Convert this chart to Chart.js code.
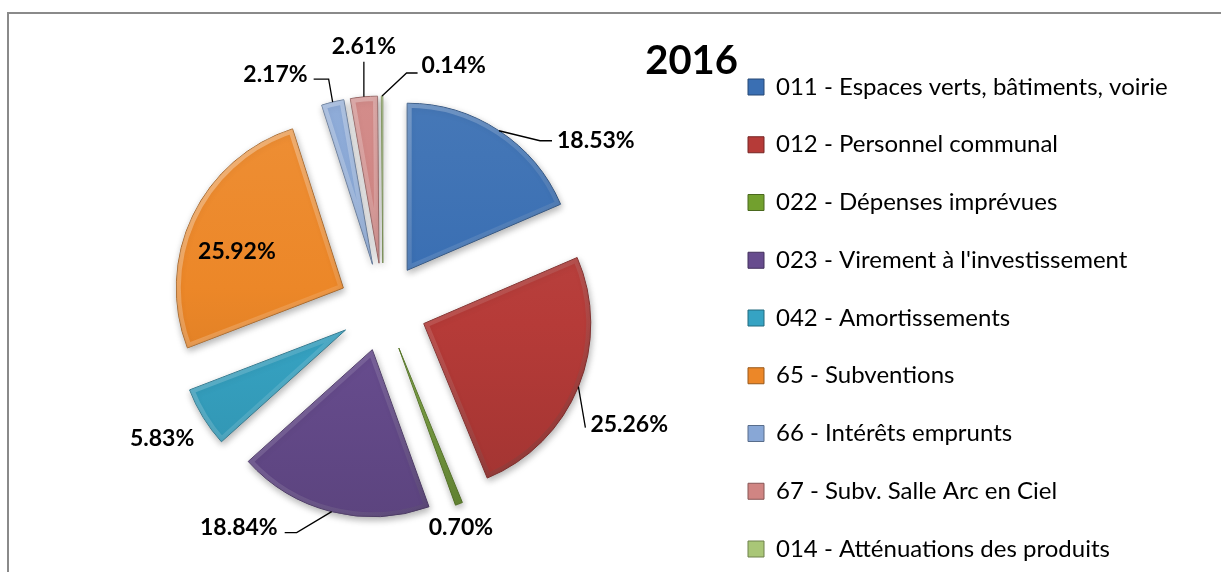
<!DOCTYPE html>
<html><head><meta charset="utf-8">
<script src="https://cdn.jsdelivr.net/npm/chart.js@4.4.1/dist/chart.umd.min.js"></script>
<style>
html,body{margin:0;padding:0;background:#fff;overflow:hidden;width:1221px;height:572px;}
#frame{position:absolute;left:7px;top:12px;width:1300px;height:700px;border:2px solid #8a8a8a;}
#wrap{position:absolute;left:0;top:0;width:1221px;height:572px;}
</style></head><body>
<div id="frame"></div>
<div id="wrap"><canvas id="c" width="1221" height="572"></canvas></div>
<script>
const chartTitle = '2016';
const categories = [
  '011 - Espaces verts, bâtiments, voirie',
  '012 - Personnel communal',
  '022 - Dépenses imprévues',
  "023 - Virement à l'investissement",
  '042 - Amortissements',
  '65 - Subventions',
  '66 - Intérêts emprunts',
  '67 - Subv. Salle Arc en Ciel',
  '014 - Atténuations des produits'
];
const values = [18.53, 25.26, 0.70, 18.84, 5.83, 25.92, 2.17, 2.61, 0.14];
const palette = ['#3a6fb3', '#b63b38', '#72a02e', '#674c8e', '#36a3c3', '#ec8728', '#88a7d6', '#d08583', '#a9c677'];

function shade(hex, f) {
  const n = parseInt(hex.slice(1), 16);
  let r = (n >> 16) & 255, g = (n >> 8) & 255, b = n & 255;
  const t = f < 0 ? 0 : 255, p = Math.abs(f);
  r = Math.round((t - r) * p + r); g = Math.round((t - g) * p + g); b = Math.round((t - b) * p + b);
  return 'rgb(' + r + ',' + g + ',' + b + ')';
}

const EXPLODE = 44;
const LEGEND_FONT = 24;
const LEGEND_PAD = 33.75;
const LEGEND_BOX = 16;

// legend width = its natural width (measured), so the legend box never clips its text
const mctx = document.createElement('canvas').getContext('2d');
mctx.font = LEGEND_FONT + 'px Lato';
const maxTextW = Math.max(...categories.map(t => mctx.measureText(t).width));
const legendWidth = LEGEND_PAD + LEGEND_BOX + LEGEND_FONT / 2 + maxTextW + 10;
const legendLeft = 714.25;

// label placement relative to the anchor point on each slice (style options)
const labelLayout = [
  {r: 1, leader: [[41, 10], [53, 10]], text: [58, 10], align: 'left'},
  {r: 1, leader: [[7, 41]], text: [12, 38], align: 'left'},
  {r: 1, leader: [], text: [2, 24], align: 'center'},
  {r: 1, leader: [[-35, 21], [-47, 21]], text: [-54, 16], align: 'right'},
  {r: 1, leader: [], text: [-41, 21], align: 'center'},
  {r: 0.68, leader: [], text: [-4, 13], align: 'center'},
  {r: 1, leader: [[-4, -23], [-19, -23]], text: [-25, -28], align: 'right'},
  {r: 1, leader: [[0, -35]], text: [0, -50], align: 'center'},
  {r: 1, leader: [[24.5, -23], [35.5, -23]], text: [39.5, -30], align: 'left'}
];

const explodePlugin = {
  id: 'explode',
  beforeDatasetDraw(chart, args, opts) {
    const ctx = chart.ctx;
    const d = opts.distance || 0;
    args.meta.data.forEach(arc => {
      const mid = (arc.startAngle + arc.endAngle) / 2;
      ctx.save();
      ctx.translate(Math.cos(mid) * d, Math.sin(mid) * d);
      ctx.save();
      ctx.shadowColor = 'rgba(0,0,0,0.30)';
      ctx.shadowBlur = 7;
      ctx.shadowOffsetX = 1;
      ctx.shadowOffsetY = 3;
      arc.draw(ctx);
      ctx.restore();
      // soft bevel along the slice edges
      const R = arc.outerRadius;
      ctx.beginPath();
      ctx.moveTo(arc.x, arc.y);
      ctx.arc(arc.x, arc.y, R, arc.startAngle, arc.endAngle);
      ctx.closePath();
      ctx.clip();
      const g = ctx.createLinearGradient(arc.x - R, arc.y - R, arc.x + R, arc.y + R);
      g.addColorStop(0, 'rgba(255,255,255,0.40)');
      g.addColorStop(0.5, 'rgba(255,255,255,0.12)');
      g.addColorStop(1, 'rgba(0,0,0,0.22)');
      ctx.strokeStyle = g;
      ctx.lineWidth = 9;
      ctx.lineJoin = 'round';
      ctx.stroke();
      ctx.restore();
    });
    return false;
  }
};

const labelPlugin = {
  id: 'sliceLabels',
  afterDatasetsDraw(chart, args, opts) {
    const ctx = chart.ctx;
    const meta = chart.getDatasetMeta(0);
    const d = opts.explode || 0;
    const data = chart.data.datasets[0].data;
    ctx.save();
    ctx.font = 'bold 23px Lato';
    ctx.fillStyle = '#000';
    ctx.strokeStyle = '#000';
    ctx.lineWidth = 1.3;
    ctx.textBaseline = 'middle';
    meta.data.forEach((arc, i) => {
      const L = opts.layout[i];
      const mid = (arc.startAngle + arc.endAngle) / 2;
      const ex = arc.x + Math.cos(mid) * d, ey = arc.y + Math.sin(mid) * d;
      const ax = ex + Math.cos(mid) * arc.outerRadius * L.r;
      const ay = ey + Math.sin(mid) * arc.outerRadius * L.r;
      if (L.leader.length) {
        ctx.beginPath();
        ctx.moveTo(ax, ay);
        L.leader.forEach(p => ctx.lineTo(ax + p[0], ay + p[1]));
        ctx.stroke();
      }
      ctx.textAlign = L.align;
      ctx.fillText(data[i].toFixed(2) + '%', ax + L.text[0], ay + L.text[1]);
    });
    // chart title, placed just left of the legend
    const lg = chart.legend;
    ctx.font = 'bold 40px Lato';
    ctx.textAlign = 'right';
    ctx.fillText(chartTitle, lg.left + lg.options.labels.padding - 10, chart.chartArea.top + 19);
    ctx.restore();
  }
};

new Chart(document.getElementById('c'), {
  type: 'pie',
  data: {
    labels: categories,
    datasets: [{
      data: values,
      backgroundColor: (c) => {
        const i = c.dataIndex;
        const ch = c.chart, ca = ch.chartArea;
        if (!ca) return palette[i];
        const cy = (ca.top + ca.bottom) / 2;
        const g = ch.ctx.createLinearGradient(0, cy - 230, 0, cy + 230);
        g.addColorStop(0, shade(palette[i], 0.08));
        g.addColorStop(0.5, palette[i]);
        g.addColorStop(1, shade(palette[i], -0.15));
        return g;
      },
      borderColor: palette.map(c => shade(c, -0.3)),
      borderWidth: 1,
      radius: 167
    }]
  },
  options: {
    responsive: false,
    animation: false,
    events: [],
    devicePixelRatio: 1,
    layout: {padding: {top: 0, bottom: -22.75, left: 2 * 383 - legendLeft,
                       right: 1221 - legendLeft - legendWidth}},
    plugins: {
      tooltip: {enabled: false},
      // empty spacer block above the pie (the visible title is drawn next to the legend)
      title: {display: true, text: '', fullSize: false, position: 'top',
              font: {size: 1, lineHeight: 1}, padding: {top: 41, bottom: 0}},
      explode: {distance: EXPLODE},
      sliceLabels: {explode: EXPLODE, layout: labelLayout},
      legend: {
        position: 'right',
        align: 'end',
        maxWidth: legendWidth,
        labels: {
          padding: LEGEND_PAD,
          boxWidth: LEGEND_BOX,
          boxHeight: LEGEND_BOX,
          color: '#000',
          font: {family: 'Lato', size: LEGEND_FONT},
          generateLabels: (chart) => categories.map((t, i) => ({
            text: t, fillStyle: palette[i], strokeStyle: shade(palette[i], -0.35),
            lineWidth: 1, hidden: false, index: i, fontColor: '#000'
          }))
        }
      }
    }
  },
  plugins: [explodePlugin, labelPlugin]
});
</script>
</body></html>
